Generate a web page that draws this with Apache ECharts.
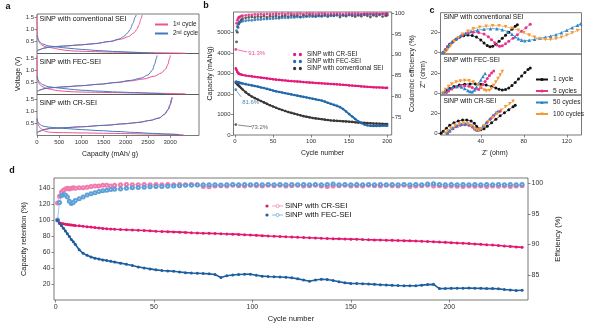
<!DOCTYPE html>
<html><head><meta charset="utf-8">
<script src="https://cdn.jsdelivr.net/npm/echarts@6/dist/echarts.min.js"></script>
<style>html,body{margin:0;padding:0;background:#fff}#chart{width:600px;height:328px}</style>
</head><body><div id="chart"></div>
<script>
// ---------- panel a: voltage profiles, [capacity mAh/g, voltage V] ----------
const convDis1 = [[0,1.6],[4,1.2],[8,0.9],[15,0.7],[30,0.55],[60,0.43],[110,0.35],[180,0.29],[260,0.26],[350,0.23],[480,0.18],[650,0.13],[850,0.1],[1200,0.08],[1700,0.06],[2200,0.045],[2700,0.03],[3100,0.02],[3350,0.01]];
const convDis2 = [[0,0.75],[20,0.6],[60,0.48],[130,0.39],[250,0.32],[450,0.27],[700,0.22],[1000,0.17],[1400,0.12],[1800,0.08],[2200,0.05],[2500,0.02],[2650,0.01]];
const convChg1 = [[0,0.08],[50,0.15],[150,0.22],[300,0.27],[600,0.31],[1000,0.36],[1300,0.41],[1650,0.5],[1900,0.6],[2060,0.7],[2180,0.85],[2250,1.0],[2300,1.2],[2345,1.45],[2370,1.6]];
const convChg2 = [[0,0.1],[50,0.16],[150,0.22],[300,0.27],[600,0.31],[1000,0.36],[1300,0.41],[1650,0.5],[1850,0.6],[1950,0.7],[2040,0.85],[2100,1.0],[2160,1.25],[2210,1.5],[2235,1.6]];
const fecDis1 = [[0,1.6],[4,1.1],[8,0.8],[15,0.62],[30,0.5],[60,0.4],[110,0.32],[180,0.26],[260,0.22],[350,0.18],[480,0.14],[650,0.11],[850,0.09],[1200,0.075],[1700,0.06],[2200,0.045],[2700,0.03],[3100,0.02],[3350,0.01]];
const fecDis2 = [[0,0.75],[20,0.6],[60,0.48],[130,0.39],[250,0.31],[450,0.26],[700,0.21],[1000,0.16],[1400,0.12],[1800,0.085],[2200,0.06],[2600,0.035],[2900,0.01]];
const fecChg1 = [[0,0.08],[50,0.15],[150,0.22],[300,0.26],[600,0.3],[1000,0.35],[1400,0.41],[1800,0.48],[2100,0.55],[2400,0.63],[2650,0.75],[2800,0.88],[2900,1.05],[2950,1.25],[2990,1.5],[3005,1.62]];
const fecChg2 = [[0,0.1],[50,0.16],[150,0.22],[300,0.26],[600,0.3],[1000,0.35],[1400,0.41],[1800,0.49],[2100,0.57],[2350,0.67],[2500,0.8],[2600,1.0],[2650,1.25],[2690,1.5],[2705,1.62]];
const crDis1 = [[0,0.68],[15,0.5],[40,0.38],[80,0.28],[140,0.2],[200,0.15],[260,0.125],[350,0.11],[600,0.1],[1000,0.09],[1500,0.075],[2000,0.06],[2500,0.045],[3000,0.03],[3300,0.01]];
const crDis2 = [[0,0.72],[20,0.56],[60,0.45],[130,0.38],[250,0.34],[450,0.3],[700,0.27],[1000,0.23],[1400,0.19],[1800,0.15],[2200,0.11],[2600,0.07],[3000,0.04],[3200,0.02]];
const crChg1 = [[0,0.08],[50,0.15],[150,0.23],[300,0.28],[600,0.31],[1000,0.35],[1500,0.41],[2000,0.48],[2300,0.54],[2550,0.62],[2750,0.72],[2880,0.88],[2960,1.08],[3010,1.3],[3040,1.52],[3050,1.6]];
const crChg2 = [[0,0.1],[50,0.16],[150,0.23],[300,0.28],[600,0.31],[1000,0.35],[1500,0.41],[2000,0.48],[2300,0.54],[2550,0.62],[2750,0.72],[2870,0.88],[2950,1.08],[3000,1.3],[3030,1.52],[3040,1.6]];

// ---------- panel b: cycling, capacity (mAh/g) and coulombic efficiency (%) ----------
const cycleB = [1,2,3,4,5,6,8,10,14,18,22,26,30,34,38,42,46,50,54,58,62,66,70,74,78,82,86,90,94,98,102,106,110,114,118,122,126,130,134,138,142,146,150,154,158,162,166,170,174,178,182,186,190,194,198,200];
const capCR = [3250,3180,3080,3020,2990,2970,2950,2930,2900,2880,2860,2840,2820,2800,2780,2760,2740,2720,2700,2690,2670,2660,2640,2630,2620,2610,2600,2580,2570,2560,2550,2540,2530,2520,2510,2500,2490,2480,2470,2460,2450,2440,2420,2410,2400,2390,2370,2360,2350,2340,2330,2320,2320,2310,2300,2300];
const capFEC = [2600,2590,2575,2565,2555,2545,2530,2510,2480,2450,2420,2390,2360,2320,2290,2250,2210,2170,2130,2100,2070,2040,2010,1980,1950,1920,1890,1860,1830,1800,1770,1740,1710,1680,1630,1570,1520,1470,1420,1360,1270,1150,1020,900,780,670,580,510,470,450,440,440,445,450,455,455];
const capConv = [2550,2520,2480,2440,2400,2360,2290,2220,2090,1980,1880,1800,1730,1660,1590,1520,1450,1390,1330,1270,1220,1170,1120,1080,1040,1000,960,920,890,860,830,810,790,770,750,730,710,700,690,680,670,660,650,640,620,610,600,590,580,570,560,555,550,545,540,535];
const ceCR = [91.3,97.6,98.3,98.7,99.0,99.1,99.3,99.4,99.5,99.6,99.6,99.7,99.7,99.8,99.7,99.8,99.8,99.8,99.9,99.8,99.9,99.8,99.9,99.9,99.8,99.9,99.9,99.8,99.9,99.9,99.9,99.8,99.9,99.9,99.9,99.8,99.9,99.9,99.9,99.9,99.8,99.9,99.9,99.9,99.9,99.9,99.8,99.9,99.9,99.9,99.9,99.9,99.8,99.9,99.9,99.9];
const ceFEC = [81.6,95.8,96.8,97.3,97.6,97.8,98.0,98.1,98.2,98.3,98.3,98.4,98.5,98.5,98.6,98.6,98.7,98.7,98.8,98.8,98.9,98.9,98.9,99.0,99.0,99.1,99.1,99.1,99.2,99.2,99.2,99.3,99.3,99.3,99.4,99.4,99.4,99.4,99.5,99.5,99.5,99.5,99.6,99.6,99.6,99.6,99.7,99.7,99.7,99.7,99.7,99.8,99.8,99.8,99.8,99.8];
const ceConv = [73.2,93.1,95.4,96.6,97.4,97.9,98.4,98.7,98.9,99.0,99.1,99.0,99.2,99.1,99.3,99.0,99.3,99.2,99.4,99.1,99.3,99.4,99.2,99.5,99.3,99.4,99.1,99.5,99.3,99.6,99.4,99.2,99.5,99.3,99.6,99.2,99.5,99.4,99.6,99.1,99.5,99.3,99.6,99.4,99.2,99.5,99.3,99.6,99.4,99.1,99.5,99.3,99.6,99.2,99.4,99.5];

// ---------- panel c: Nyquist plots, [Z' ohm, -Z'' ohm] ----------
const convN1 = [[5,0.5],[7,3],[9,6],[11,8.5],[14,11],[17,13.5],[20,15.5],[24,17],[28,17.6],[32,17.2],[36,15.6],[40,12.8],[43,9.8],[46,7.2],[48.5,6],[51,6.4],[54,8.4],[57,11.4],[60,14.4],[63,17.4],[66,20.4],[69,23.4],[72,26.4],[74,28]];
const convN5 = [[5,0.5],[7,3],[9,6],[12,9],[15,12],[19,15],[23,17.5],[28,19.5],[33,20.5],[38,20.2],[43,18.6],[47,16],[50,13],[53,10],[55,7.6],[57.5,6.4],[60,7],[63,9],[66,11.5],[70,14.5],[74,18],[78,21.5],[82,25],[86,28.5]];
const convN50 = [[5,0.5],[7,3],[10,7],[13,10.5],[17,14],[21,17],[26,19.5],[31,21.2],[37,22.6],[43,23.5],[49,24],[55,24],[60,23],[65,21],[69,18.5],[72,16],[75,14],[78,12.6],[81,12],[85,12.4],[90,13.4],[95,14.4],[100,15.4],[105,16.5],[110,18],[115,20],[120,22.5],[125,25],[130,27.5],[133,29]];
const convN100 = [[7,0.5],[9,3],[12,7],[15,11],[19,15],[23,18.5],[28,21.5],[33,23.8],[39,25.5],[45,26.5],[51,27],[57,27],[63,26],[69,24.5],[75,22.5],[80,20],[85,17.6],[90,15.5],[95,14],[100,13.2],[105,13.2],[110,14],[115,15.5],[120,17.5],[125,19.8],[130,22.2],[134,24]];
const fecN1 = [[5,1],[8,3],[11,5],[15,7],[20,8.5],[25,9.3],[30,9.6],[35,9.6],[40,9.3],[45,8.5],[50,7],[54,5.5],[57,4.3],[60,3.6],[63,4],[66,5.5],[69,8],[72,11],[75,14.5],[78,17.5],[81,21],[84,24],[86,25.5]];
const fecN5 = [[8,1],[10,2.5],[13,4.5],[17,6.5],[21,7.5],[25,7.8],[29,7.3],[32,6],[35,4.6],[38,4],[40,6],[42,9],[44,12],[46,15],[48,18],[50,20.5],[52,22.5]];
const fecN50 = [[5,1],[7,3],[10,5],[14,6.5],[18,7],[22,6.5],[25,5],[28,3],[30,2],[32,1.8],[34,3.5],[36,6.5],[38,10],[40,13.5],[42,17],[44,20]];
const fecN100 = [[5,1],[7,4],[10,7],[13,9.5],[17,11.5],[21,12.5],[25,13],[29,12.8],[33,11.5],[37,9],[40,6],[43,3.5],[45,2.6],[48,3],[50,5],[52,8],[54,11.5],[56,15],[58,18.5],[60,22]];
const crN1 = [[3,0],[5,2],[8,5],[11,8],[15,10.5],[19,12.3],[23,13.2],[27,13.3],[31,12.3],[34,10],[36,7],[38,4.5],[40,3.5],[43,4.5],[46,7],[50,10.5],[54,14],[58,17.5],[62,20.5],[66,23.5],[70,26.5],[72,28]];
const crN5 = [[9,0],[11,2],[14,4.5],[17,6.5],[21,8],[25,8.5],[29,8],[32,6.5],[34,4.5],[36,3],[38,3],[40,4.5],[43,7.5],[46,11],[49,14.5],[52,17.5],[55,20.5],[58,22]];
const crN50 = [[9,0],[11,2.5],[14,5],[18,7.5],[22,9],[26,9.5],[30,8.5],[33,6.5],[35,4.5],[37,3.5],[39,4],[42,7],[45,10.5],[48,14],[51,17.5],[54,20.5],[56,22]];
const crN100 = [[7,0],[9,2.5],[12,5],[16,8],[20,9.5],[24,10],[28,9.5],[31,7.5],[34,5],[36,3.5],[38,3.2],[40,4.5],[43,7.5],[47,11.5],[51,15.5],[55,19.5],[59,23],[63,26.5],[67,29.5],[70,32]];

// ---------- panel d: long cycling, capacity retention (%) and efficiency (%) ----------
const cycleD = [1,2,3,4,5,6,7,8,9,10,12,14,16,18,20,22,24,26,28,30,33,36,39,42,45,48,51,54,57,60,63,66,69,72,75,78,81,84,87,90,93,96,99,102,105,108,111,114,117,120,123,126,129,132,135,138,141,144,147,150,153,156,159,162,165,168,171,174,177,180,183,186,189,192,195,198,201,204,207,210,213,216,219,222,225,228,231,234,237];
const retCR = [100,97,96,95.5,95,94.8,94.5,94.2,93.8,93.5, 93,92.4,91.9,91.4,90.8,90.3,89.8,89.4,89.1,88.8, 88.4,88.1,87.8,87.5,87.1,86.7,86.3,86,85.7,85.4, 85.1,84.8,84.4,84.1,83.8,83.6,83.4,83.1,82.8,82.6, 82.3,81.9,81.5,81.1,80.7,80.3,80,79.7,79.3,79, 78.6,78.3,78,77.7,77.4,77.2,76.9,76.7,76.5,76.3, 76.1,75.8,75.6,75.4,75.2,75,74.8,74.6,74.4,74.2, 73.9,73.6,73.3,73,72.6,72.3,71.9,71.5,71.1,70.7, 70.3,69.8,69.3,68.9,68.4,67.7,67.2,66.6,66];
const retFEC = [100,96,93,90,86.5,83,79.5,76,73,70, 63,58.5,56,54,52.5,51.3,50.3,49.5,48.5,47.5, 46.2,44.8,43.2,41.5,40.2,39,37.8,37,36.5,36, 35.2,34.3,33.8,33.5,33.2,32.8,32,28.3,30.5,31.3, 31.9,32.3,32.4,31,29.9,29.5,29.2,28.9,28.5,27.8, 26.5,25,23.5,25,26,25.8,24.5,22.8,21.5,20.8, 20.6,20.3,20,19.6,19.2,18.8,18.4,18.1,17.9,17.8, 17.9,18.6,19.3,19.6,14.3,14.4,14.6,14.7,14.8,14.9, 14.8,14.6,14.3,14.5,14,13.2,12.6,12,12.3];
const effCR = [96.8,97.9,98.6,98.9,99.1,99.2,99.1,99.2,99.3,99.2, 99.3,99.3,99.4,99.5,99.6,99.6,99.7,99.7,99.6,99.7, 99.8,99.85,99.8,99.8,99.85,99.8,99.85,99.8,99.85,99.8, 99.85,99.8,99.85,99.8,99.5,99.45,99.6,99.65,99.6,99.7, 99.65,99.6,99.7,99.65,99.6,99.7,99.65,99.7,99.6,99.65, 99.7,99.6,99.65,99.7,99.6,99.5,99.6,99.65,99.7,99.6, 99.65,99.6,99.7,99.65,99.6,99.7,99.65,99.6,99.7,99.5, 99.6,99.65,99.7,99.6,99.65,99.5,99.6,99.55,99.5,99.6, 99.55,99.6,99.5,99.6,99.55,99.6,99.5,99.6,99.65];
const effFEC = [94.0,96.9,98.0,98.2,98.1,97.8,97.1,96.7,96.9,97.2, 97.5,97.8,98.1,98.3,98.5,98.7,98.8,98.9,99.0,99.05, 99.1,99.2,99.3,99.35,99.4,99.45,99.5,99.5,99.55,99.6, 99.65,99.7,99.7,99.75,99.8,99.8,99.8,99.75,99.8,99.85, 99.8,99.85,99.8,99.85,99.8,99.85,99.8,99.85,99.8,99.85, 99.8,99.85,99.8,99.85,99.8,99.85,99.9,99.8,99.85,99.8, 99.85,99.8,99.85,99.8,99.85,99.8,99.85,99.8,99.85,99.8, 99.85,99.8,99.9,99.95,99.85,99.8,99.85,99.8,99.85,99.8, 99.85,99.8,99.85,99.8,99.85,99.8,99.85,99.8,99.85];

// ---------- styling ----------
const FONT = '"Liberation Sans", Arial, Helvetica, sans-serif';
const AX = '#555';
const pinkA = '#ec5495', blueA = '#4879bb';
const pinkB = '#e5197b', blueB = '#2169ac', grayB = '#383838';
const cBlack = '#111111', cPink = '#e8338a', cBlue = '#2f86c6', cOrange = '#f59a3a';
const pinkD = '#e3176f', blueD = '#1d5e9f', pinkDL = '#f07aae', blueDL = '#5d9fd6';

const zip = (xs, ys) => xs.map((x, i) => [x, ys[i]]);
const plain = v => String(v);

function axis(o) {
  return {
    type: 'value', gridIndex: o.grid, min: o.min, max: o.max, position: o.position,
    splitLine: { show: false },
    axisLine: { show: false, onZero: false },
    axisTick: { show: !!o.ticks, length: 2.5, lineStyle: { color: AX, width: 0.7 }, customValues: o.ticks },
    axisLabel: { show: !!o.labels, customValues: o.labels, fontSize: o.fs || 6, color: '#333', margin: o.margin || 3.5, fontFamily: FONT, formatter: o.fmt || plain },
    name: o.name, nameLocation: 'middle', nameGap: o.gap, nameRotate: o.rot,
    nameTextStyle: { fontSize: o.nfs || 7, color: '#222', fontFamily: FONT, padding: o.pad || 0 }
  };
}
const gridStyle = { show: true, borderColor: AX, borderWidth: 0.8, backgroundColor: 'transparent' };

const capTicks = [0, 500, 1000, 1500, 2000, 2500, 3000];
const voltTicks = [0.5, 1.0, 1.5];
const v1 = v => v.toFixed(1);
const cycTicksB = [0, 50, 100, 150, 200];

const xAxes = [
  axis({ grid: 0, min: 0, max: 3650 }),
  axis({ grid: 1, min: 0, max: 3650 }),
  axis({ grid: 2, min: 0, max: 3650, ticks: capTicks, labels: capTicks, name: 'Capacity (mAh/ g)', gap: 15, pad: [0, 16, 0, 0] }),
  axis({ grid: 3, min: -2, max: 206, ticks: cycTicksB, labels: cycTicksB, name: 'Cycle number', gap: 15, pad: [0, 0, 0, 20] }),
  axis({ grid: 4, min: 2.5, max: 133.7 }),
  axis({ grid: 5, min: 2.5, max: 133.7 }),
  axis({ grid: 6, min: 2.5, max: 133.7, ticks: [40, 80, 120], labels: [40, 80, 120], name: "Z' (ohm)", gap: 15, pad: [0, 32, 0, 0] }),
  axis({ grid: 7, min: -0.8, max: 240, ticks: [0, 50, 100, 150, 200], labels: [0, 50, 100, 150, 200], fs: 7, name: 'Cycle number', gap: 15, nfs: 7.5 })
];
const yAxes = [
  axis({ grid: 0, min: 0, max: 1.64, ticks: voltTicks, labels: voltTicks, fmt: v1, margin: 3 }),
  axis({ grid: 1, min: -0.02, max: 1.7, ticks: voltTicks, labels: voltTicks, fmt: v1, margin: 3, name: 'Voltage (V)', gap: 13 }),
  axis({ grid: 2, min: -0.02, max: 1.72, ticks: voltTicks, labels: voltTicks, fmt: v1, margin: 3 }),
  axis({ grid: 3, min: 0, max: 6000, ticks: [0, 1000, 2000, 3000, 4000, 5000], labels: [0, 1000, 2000, 3000, 4000, 5000], margin: 3, name: 'Capacity (mAh/g)', gap: 20 }),
  axis({ grid: 3, min: 70.7, max: 100.3, position: 'right', ticks: [75, 80, 85, 90, 95, 100], labels: [75, 80, 85, 90, 95, 100], margin: 3, name: 'Coulombic efficiency (%)', gap: 14, rot: 90 }),
  axis({ grid: 4, min: -1.3, max: 40, ticks: [0, 20], labels: [0, 20], margin: 3 }),
  axis({ grid: 5, min: -1.5, max: 39.5, ticks: [0, 20], labels: [0, 20], margin: 3, name: "Z'' (ohm)", gap: 13 }),
  axis({ grid: 6, min: -1.7, max: 38.3, ticks: [0, 20], labels: [0, 20], margin: 3 }),
  axis({ grid: 7, min: 0, max: 153, ticks: [20, 40, 60, 80, 100, 120, 140], labels: [20, 40, 60, 80, 100, 120, 140], fs: 7, margin: 3.5, name: 'Capacity retention (%)', gap: 19, nfs: 7.5 }),
  axis({ grid: 7, min: 80.9, max: 100.9, position: 'right', ticks: [85, 90, 95, 100], labels: [85, 90, 95, 100], fs: 7, margin: 3.5, name: 'Efficiency (%)', gap: 17, nfs: 7.5, rot: 90 })
];

const series = [];
// panel a
function voltage(idx, data, name, color) {
  series.push({ type: 'line', name, xAxisIndex: idx, yAxisIndex: idx, data, symbol: 'none', smooth: 0.3, smoothMonotone: 'x',
    lineStyle: { width: 1, color }, itemStyle: { color }, z: name === '2nd cycle' ? 3 : 2 });
}
[[convDis1, convChg1, convDis2, convChg2], [fecDis1, fecChg1, fecDis2, fecChg2], [crDis1, crChg1, crDis2, crChg2]].forEach((set, i) => {
  voltage(i, set[0], '1st cycle', pinkA);
  voltage(i, set[1], '1st cycle', pinkA);
  voltage(i, set[2], '2nd cycle', blueA);
  voltage(i, set[3], '2nd cycle', blueA);
});

// panel b
const bSets = [
  { name: 'SiNP with conventional SEI', cap: capConv, ce: ceConv, color: grayB, arrow: [[22, 72.7], [4, 73.1]], lab: { distance: 14, offset: [0, 3] } },
  { name: 'SiNP with FEC-SEI', cap: capFEC, ce: ceFEC, color: blueB, arrow: [[8, 79.9], [2.5, 81.2]], lab: { distance: 5, offset: [0, 13] } },
  { name: 'SiNP with CR-SEI', cap: capCR, ce: ceCR, color: pinkB, arrow: [[16, 90.7], [3, 91.2]], lab: { distance: 11, offset: [0, 3.5] } }
];
bSets.forEach(s => {
  series.push({ type: 'line', name: s.name, xAxisIndex: 3, yAxisIndex: 3, data: zip(cycleB, s.cap),
    symbol: 'circle', symbolSize: 2.6, showAllSymbol: true, lineStyle: { width: 1.8, color: s.color }, itemStyle: { color: s.color } });
  const ceData = zip(cycleB, s.ce).map((p, i) => i === 0 ? {
    value: p,
    label: { show: true, position: 'right', distance: s.lab.distance, offset: s.lab.offset, color: s.color, fontSize: 6, fontFamily: FONT,
      formatter: q => q.value[1].toFixed(1) + '%' }
  } : p);
  series.push({ type: 'scatter', name: s.name, xAxisIndex: 3, yAxisIndex: 4, data: ceData, symbolSize: 2.8,
    itemStyle: { color: s.color },
    markLine: { silent: true, symbol: ['none', 'arrow'], symbolSize: [0, 3.5], animation: false,
      lineStyle: { color: s.color, width: 0.6, type: 'solid' }, label: { show: false },
      data: [[{ coord: s.arrow[0] }, { coord: s.arrow[1] }]] } });
});

// panel c
const triDown = 'path://M0,0L10,0L5,8.66Z';
const cSpecs = [
  { name: '1 cycle', color: cBlack, symbol: 'circle', size: 3 },
  { name: '5 cycles', color: cPink, symbol: 'circle', size: 3 },
  { name: '50 cycles', color: cBlue, symbol: 'triangle', size: 3.6 },
  { name: '100 cycles', color: cOrange, symbol: triDown, size: 3.6 }
];
[[convN1, convN5, convN50, convN100], [fecN1, fecN5, fecN50, fecN100], [crN1, crN5, crN50, crN100]].forEach((set, g) => {
  set.forEach((data, k) => {
    const sp = cSpecs[k];
    series.push({ type: 'line', name: sp.name, xAxisIndex: 4 + g, yAxisIndex: 5 + g, data, symbol: sp.symbol, symbolSize: sp.size,
      showAllSymbol: true, lineStyle: { width: 0.7, color: sp.color }, itemStyle: { color: sp.color } });
  });
});

// panel d
series.push({ type: 'line', name: 'CR-SEI efficiency', xAxisIndex: 7, yAxisIndex: 9, data: zip(cycleD, effCR),
  symbol: 'emptyCircle', symbolSize: 3, showAllSymbol: true, lineStyle: { width: 0.6, color: pinkDL }, itemStyle: { color: pinkDL, borderWidth: 0.7 } });
series.push({ type: 'line', name: 'FEC-SEI efficiency', xAxisIndex: 7, yAxisIndex: 9, data: zip(cycleD, effFEC),
  symbol: 'emptyCircle', symbolSize: 3, showAllSymbol: true, lineStyle: { width: 0.6, color: blueDL }, itemStyle: { color: blueDL, borderWidth: 0.7 } });
series.push({ type: 'line', name: 'CR-SEI retention', xAxisIndex: 7, yAxisIndex: 8, data: zip(cycleD, retCR),
  symbol: 'circle', symbolSize: 3, showAllSymbol: true, lineStyle: { width: 1.6, color: pinkD }, itemStyle: { color: pinkD } });
series.push({ type: 'line', name: 'FEC-SEI retention', xAxisIndex: 7, yAxisIndex: 8, data: zip(cycleD, retFEC),
  symbol: 'circle', symbolSize: 3, showAllSymbol: true, lineStyle: { width: 1.6, color: blueD }, itemStyle: { color: blueD } });

// panel letters, inset titles and the legend of panel d
const txt = (x, y, text, size, opts) => Object.assign({ type: 'text', x, y, silent: true,
  style: Object.assign({ text, font: size + 'px ' + FONT, fill: '#111', textAlign: 'left', textVerticalAlign: 'middle' }, (opts || {})) });
const graphic = [
  txt(8, 7, 'a', 9, { font: 'bold 9px ' + FONT, textAlign: 'center' }),
  txt(206, 6, 'b', 9, { font: 'bold 9px ' + FONT, textAlign: 'center' }),
  txt(432, 11, 'c', 9, { font: 'bold 9px ' + FONT, textAlign: 'center' }),
  txt(12, 171, 'd', 9, { font: 'bold 9px ' + FONT, textAlign: 'center' }),
  txt(39.5, 19, 'SiNP with conventional SEI', 7.2),
  txt(39.5, 62, 'SiNP with FEC-SEI', 7.2),
  txt(39.5, 103, 'SiNP with CR-SEI', 7.2),
  txt(443.5, 17.5, 'SiNP with conventional SEI', 6.6),
  txt(443.5, 60.5, 'SiNP with FEC-SEI', 6.6),
  txt(443.5, 101.5, 'SiNP with CR-SEI', 6.6)
];
[[206, pinkD, pinkDL, 'SiNP with CR-SEI'], [215, blueD, blueDL, 'SiNP with FEC-SEI']].forEach(r => {
  const [y, c1, c2, t] = r;
  graphic.push({ type: 'circle', silent: true, shape: { cx: 267, cy: y, r: 1.6 }, style: { fill: c1 } });
  graphic.push({ type: 'line', silent: true, shape: { x1: 272, y1: y, x2: 283, y2: y }, style: { stroke: c2, lineWidth: 0.7 } });
  graphic.push({ type: 'circle', silent: true, shape: { cx: 277.5, cy: y, r: 1.6 }, style: { fill: '#fff', stroke: c2, lineWidth: 0.7 } });
  graphic.push(txt(285, y, t, 7.8));
});

const option = {
  animation: false,
  backgroundColor: '#ffffff',
  grid: [
    Object.assign({ left: 37, top: 14, width: 162, height: 39.5 }, gridStyle),
    Object.assign({ left: 37, top: 53.5, width: 162, height: 41 }, gridStyle),
    Object.assign({ left: 37, top: 94.5, width: 162, height: 41 }, gridStyle),
    Object.assign({ left: 233.5, top: 12, width: 158.2, height: 123 }, gridStyle),
    Object.assign({ left: 440.5, top: 12.7, width: 141, height: 41.3 }, gridStyle),
    Object.assign({ left: 440.5, top: 54, width: 141, height: 41 }, gridStyle),
    Object.assign({ left: 440.5, top: 95, width: 141, height: 40 }, gridStyle),
    Object.assign({ left: 54, top: 178, width: 474, height: 122 }, gridStyle)
  ],
  xAxis: xAxes,
  yAxis: yAxes,
  legend: [
    { data: ['1st cycle', '2nd cycle'], left: 149, top: 16, orient: 'vertical', itemWidth: 13, itemHeight: 2, itemGap: 2,
      formatter: n => n === '1st cycle' ? '1{s|st} cycle' : '2{s|nd} cycle',
      textStyle: { fontSize: 6.5, color: '#222', fontFamily: FONT, rich: { s: { fontSize: 4.5, verticalAlign: 'top', fontFamily: FONT, color: '#222' } } } },
    { data: ['SiNP with CR-SEI', 'SiNP with FEC-SEI', 'SiNP with conventional SEI'], left: 288, top: 46.5, orient: 'vertical',
      itemWidth: 9, itemHeight: 3.3, itemGap: 1, icon: 'path://M0,2a2,2 0 1,0 4,0a2,2 0 1,0 -4,0zM7,2a2,2 0 1,0 4,0a2,2 0 1,0 -4,0z',
      textStyle: { fontSize: 6.3, color: '#222', fontFamily: FONT } },
    { data: ['1 cycle', '5 cycles', '50 cycles', '100 cycles'], left: 530, top: 71, orient: 'vertical',
      itemWidth: 12, itemHeight: 4, itemGap: 4.5, textStyle: { fontSize: 6.6, color: '#222', fontFamily: FONT } }
  ],
  graphic,
  series
};

const chart = echarts.init(document.getElementById('chart'), null, { renderer: 'canvas' });
chart.setOption(option);
</script></body></html>
